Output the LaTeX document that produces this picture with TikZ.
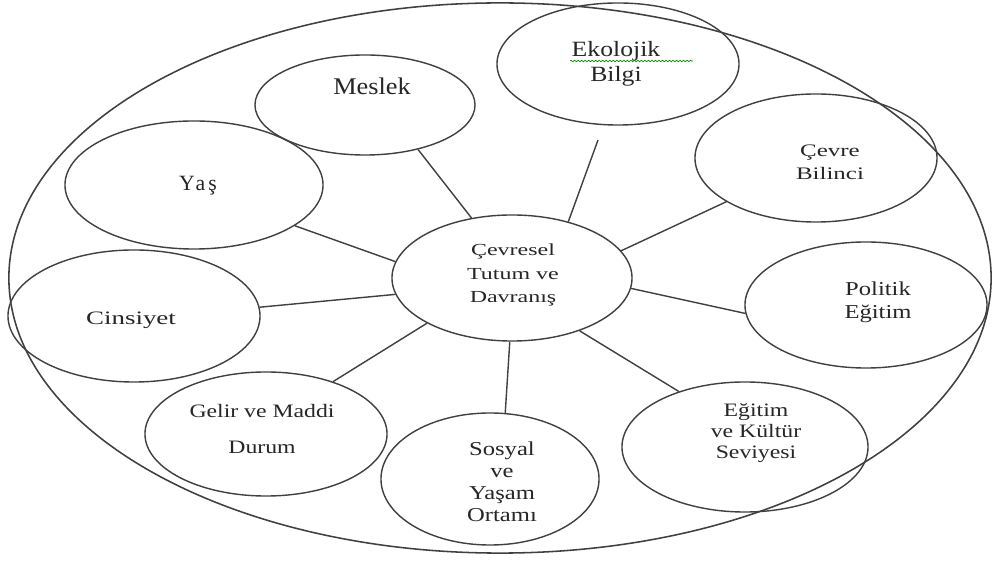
\documentclass[tikz,border=0pt]{standalone}
\usepackage{fontspec}
\setmainfont{Liberation Serif}
\newfontfamily\fA[FakeStretch=1.25]{Liberation Serif}
\newfontfamily\fB[FakeStretch=1.42]{Liberation Serif}
\newfontfamily\fC[FakeStretch=1.1]{Liberation Serif}
\newfontfamily\fD[FakeStretch=1.18]{Liberation Serif}
\newfontfamily\fY[LetterSpace=14]{Liberation Serif}
\usetikzlibrary{shapes.geometric,decorations.pathmorphing}
\begin{document}
\begin{tikzpicture}[x=0.025cm,y=-0.025cm,line width=1pt,
  bub/.style={draw=black!75,ellipse,inner sep=0pt},
  lab/.style={align=center,text=black!85,inner sep=0pt},
  con/.style={draw=black!75}]
\useasboundingbox[fill=white] (0,0) rectangle (996,563);
% outer ellipse
\node[bub,line width=1.1pt,minimum width=24.55cm,minimum height=13.75cm] (outer) at (500,278) {};
% bubbles
\node[bub,minimum width=6.0cm,minimum height=3.15cm] (c) at (512,278) {};
\node[bub,minimum width=5.5cm,minimum height=2.5cm] (mes) at (365,105) {};
\node[bub,minimum width=6.05cm,minimum height=3.05cm] (eko) at (618,64) {};
\node[bub,minimum width=6.05cm,minimum height=3.2cm] (cev) at (816,158) {};
\node[bub,minimum width=6.45cm,minimum height=3.2cm] (yas) at (194,185) {};
\node[bub,minimum width=6.3cm,minimum height=3.3cm] (cin) at (134,316) {};
\node[bub,minimum width=6.05cm,minimum height=3.15cm] (pol) at (866,305) {};
\node[bub,minimum width=6.05cm,minimum height=3.1cm] (gel) at (266,434) {};
\node[bub,minimum width=5.45cm,minimum height=3.3cm] (sos) at (490,479) {};
\node[bub,minimum width=6.15cm,minimum height=3.25cm] (egi) at (745,447) {};
% labels
\node[lab,font=\fB\fontsize{12}{16.4}\selectfont] (ct) at (513,275) {Çevresel\\Tutum  ve\\Davranış};
\node[lab,font=\fC\fontsize{17}{20}\selectfont] (mest) at (372,86) {Meslek};
\node[lab,font=\fD\fontsize{15.5}{17.8}\selectfont] (ekot) at (616,64) {Ekolojik\\Bilgi};
\node[lab,font=\fB\fontsize{12.5}{16.4}\selectfont] (cevt) at (830,162) {Çevre\\Bilinci};
\node[lab,font=\fY\fontsize{15.5}{18}\selectfont] (yast) at (198,186) {Yaş};
\node[lab,font=\fB\fontsize{13.5}{16}\selectfont] (cint) at (131,320) {Cinsiyet};
\node[lab,font=\fA\fontsize{14}{16.4}\selectfont] (polt) at (878,302) {Politik\\Eğitim};
\node[lab,font=\fA\fontsize{13.5}{26}\selectfont] (gelt) at (262,429) {Gelir ve Maddi\\Durum};
\node[lab,font=\fA\fontsize{14}{15.6}\selectfont] (sost) at (502,482) {Sosyal\\ve\\Yaşam\\Ortamı};
\node[lab,font=\fA\fontsize{13.5}{15}\selectfont] (egit) at (756,433) {Eğitim\\ve Kültür\\Seviyesi};
% spell-check squiggle
\coordinate (sqa) at (570,61);
\coordinate (sqb) at (693,61);
\draw[green!55!black,line width=0.5pt,decorate,decoration={snake,amplitude=0.5pt,segment length=2.5pt}] (sqa) -- (sqb);
% connectors
\coordinate (ekend) at (598,140);
\draw[con] (c.124) -- (mes.-40);
\draw[con] (c.45) -- (ekend);
\draw[con] (c.14) -- (cev.206);
\draw[con] (c.172) -- (yas.-22);
\draw[con] (c.188) -- (cin.4);
\draw[con] (c.-5) -- (pol.184);
\draw[con] (c.208) -- (gel.38);
\draw[con] (c.268) -- (sos.77);
\draw[con] (c.-38) -- (egi.140);
\end{tikzpicture}
\end{document}
